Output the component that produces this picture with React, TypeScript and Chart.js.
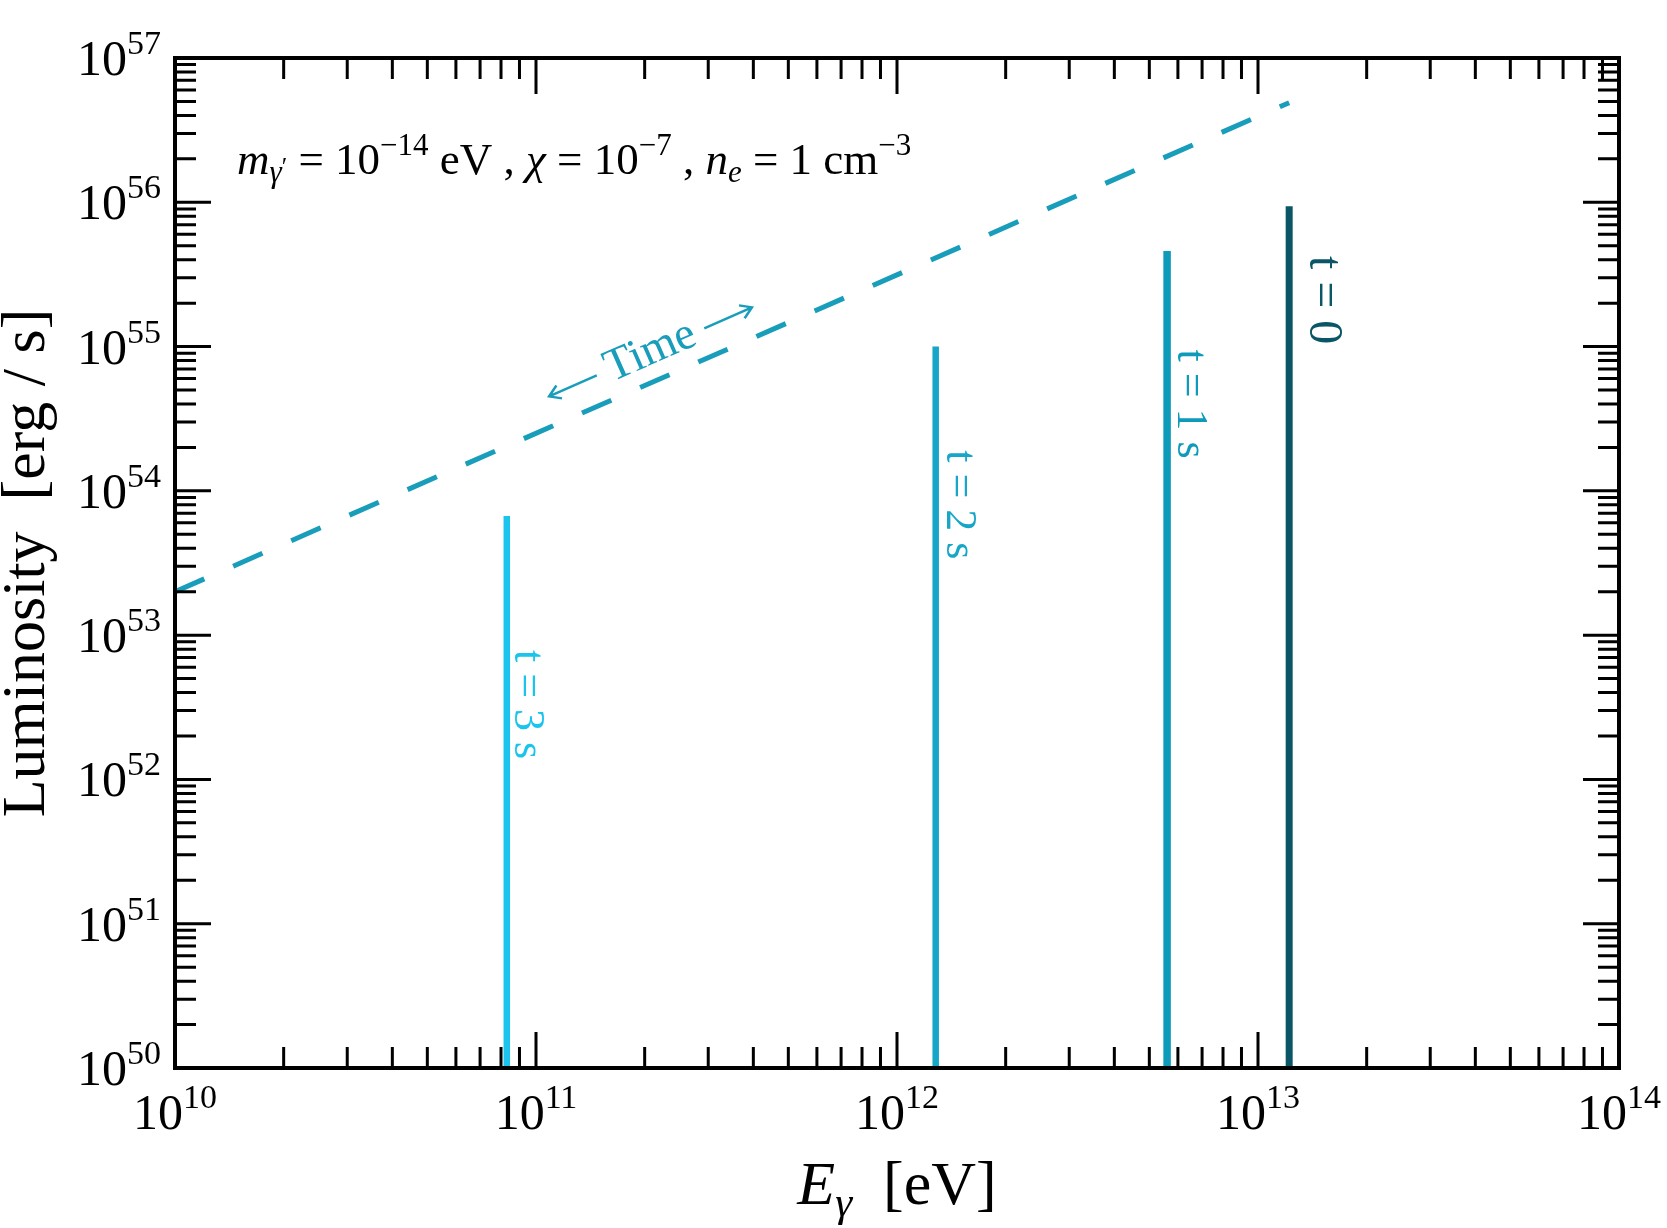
import React, { useEffect, useRef } from 'react';
import { Chart, registerables } from 'chart.js';

Chart.register(...registerables);

// spectral lines at different times (E in eV, L in erg/s)
const lineTimes = ['t = 3 s', 't = 2 s', 't = 1 s', 't = 0'];
const lineEnergy = [8.3e10, 1.28e12, 5.6e12, 1.22e13];
const linePeak = [6.7e53, 1.0e55, 4.6e55, 9.4e55];
const lineFloor = 1e50;
const labelLum = [3.3e52, 8.0e53, 4.0e54, 2.1e55];

// dashed envelope of the peaks
const envelopeEnergy = [1e10, 1.22e13];
const envelopeLum = [2e53, 4.9e56];

// "Time" arrow label anchor [E, L]
const timeLabelAt = [2.06e11, 9.6e54];

const xDecades = [10, 11, 12, 13, 14];
const yDecades = [50, 51, 52, 53, 54, 55, 56, 57];

const lineColors = ['#1BC4EC', '#16A6C7', '#0E9BBA', '#0A5666'];
const lineWidths = [6.5, 6.5, 7.5, 7];
const labelGap = [8, 11, 11, 21];
const labelSize = [44, 44, 44, 48];
const envelopeColor = '#189DBB';

const SERIF = '"Liberation Serif", "Times New Roman", Times, serif';

type Part = { t: string; it?: boolean; s?: number; dy?: number };

const fontFor = (p: Part, size: number) =>
  `${p.it ? 'italic ' : ''}${Math.round(size * (p.s ?? 1))}px ${SERIF}`;

function richWidth(ctx: CanvasRenderingContext2D, parts: Part[], size: number) {
  let w = 0;
  for (const p of parts) {
    ctx.font = fontFor(p, size);
    w += ctx.measureText(p.t).width;
  }
  return w;
}

function drawRich(
  ctx: CanvasRenderingContext2D,
  parts: Part[],
  x: number,
  y: number,
  size: number,
  align: 'left' | 'center' | 'right'
) {
  const w = richWidth(ctx, parts, size);
  let cx = align === 'left' ? x : align === 'center' ? x - w / 2 : x - w;
  ctx.textAlign = 'left';
  ctx.textBaseline = 'alphabetic';
  for (const p of parts) {
    ctx.font = fontFor(p, size);
    ctx.fillText(p.t, cx, y + (p.dy ?? 0) * size);
    cx += ctx.measureText(p.t).width;
  }
}

const pow10 = (n: number): Part[] => [{ t: '10' }, { t: String(n), s: 0.68, dy: -0.42 }];

const framePlugin = {
  id: 'frame',
  afterDraw(chart: Chart) {
    const ctx = chart.ctx;
    const { left, right, top, bottom } = chart.chartArea;
    const xs = chart.scales.x;
    const ys = chart.scales.y;
    ctx.save();

    // ticks
    ctx.strokeStyle = '#000';
    ctx.lineWidth = 3;
    const major = 36;
    const minor = 21;
    ctx.beginPath();
    xDecades.forEach((d, i) => {
      const px = xs.getPixelForValue(10 ** d);
      ctx.moveTo(px, bottom); ctx.lineTo(px, bottom - major);
      ctx.moveTo(px, top); ctx.lineTo(px, top + major);
      if (i < xDecades.length - 1) {
        for (let k = 2; k <= 9; k++) {
          const m = xs.getPixelForValue(k * 10 ** d);
          ctx.moveTo(m, bottom); ctx.lineTo(m, bottom - minor);
          ctx.moveTo(m, top); ctx.lineTo(m, top + minor);
        }
      }
    });
    yDecades.forEach((d, i) => {
      const py = ys.getPixelForValue(10 ** d);
      ctx.moveTo(left, py); ctx.lineTo(left + major, py);
      ctx.moveTo(right, py); ctx.lineTo(right - major, py);
      if (i < yDecades.length - 1) {
        for (let k = 2; k <= 9; k++) {
          const m = ys.getPixelForValue(k * 10 ** d);
          ctx.moveTo(left, m); ctx.lineTo(left + minor, m);
          ctx.moveTo(right, m); ctx.lineTo(right - minor, m);
        }
      }
    });
    ctx.stroke();

    // frame
    ctx.lineWidth = 4;
    ctx.strokeRect(left, top, right - left, bottom - top);

    // tick labels
    ctx.fillStyle = '#000';
    xDecades.forEach((d) => {
      drawRich(ctx, pow10(d), xs.getPixelForValue(10 ** d), bottom + 61, 50, 'center');
    });
    yDecades.forEach((d) => {
      drawRich(ctx, pow10(d), left - 14, ys.getPixelForValue(10 ** d) + 17, 50, 'right');
    });

    // axis titles
    drawRich(
      ctx,
      [{ t: 'E', it: true }, { t: 'γ', it: true, s: 0.7, dy: 0.2 }, { t: '  [eV]' }],
      (left + right) / 2,
      1204,
      62,
      'center'
    );
    ctx.save();
    ctx.translate(44, (top + bottom) / 2);
    ctx.rotate(-Math.PI / 2);
    drawRich(ctx, [{ t: 'Luminosity  [erg / s]' }], 0, 0, 62, 'center');
    ctx.restore();

    // parameter annotation
    drawRich(
      ctx,
      [
        { t: 'm', it: true },
        { t: 'γ', it: true, s: 0.7, dy: 0.18 },
        { t: '′', s: 0.55, dy: 0.02 },
        { t: ' = 10' },
        { t: '−14', s: 0.7, dy: -0.42 },
        { t: ' eV , ' },
        { t: 'χ', it: true },
        { t: ' = 10' },
        { t: '−7', s: 0.7, dy: -0.42 },
        { t: ' , ' },
        { t: 'n', it: true },
        { t: 'e', it: true, s: 0.7, dy: 0.18 },
        { t: ' = 1 cm' },
        { t: '−3', s: 0.7, dy: -0.42 },
      ],
      left + 62,
      top + 116,
      45,
      'left'
    );

    // time labels beside each line
    lineTimes.forEach((txt, i) => {
      const px = xs.getPixelForValue(lineEnergy[i]) + labelGap[i];
      const py = ys.getPixelForValue(labelLum[i]);
      ctx.save();
      ctx.translate(px, py);
      ctx.rotate(Math.PI / 2);
      ctx.fillStyle = lineColors[i];
      ctx.font = `${labelSize[i]}px ${SERIF}`;
      ctx.textAlign = 'center';
      ctx.textBaseline = 'alphabetic';
      ctx.fillText(txt, 0, 0);
      ctx.restore();
    });

    // "<- Time ->" along the envelope
    const x1 = xs.getPixelForValue(envelopeEnergy[0]);
    const y1 = ys.getPixelForValue(envelopeLum[0]);
    const x2 = xs.getPixelForValue(envelopeEnergy[1]);
    const y2 = ys.getPixelForValue(envelopeLum[1]);
    const ang = Math.atan2(y2 - y1, x2 - x1);
    ctx.save();
    ctx.translate(xs.getPixelForValue(timeLabelAt[0]), ys.getPixelForValue(timeLabelAt[1]));
    ctx.rotate(ang);
    ctx.fillStyle = envelopeColor;
    ctx.strokeStyle = envelopeColor;
    ctx.font = `46px ${SERIF}`;
    ctx.textAlign = 'center';
    ctx.textBaseline = 'alphabetic';
    ctx.fillText('Time', 0, 15);
    const hw = ctx.measureText('Time').width / 2;
    const gap = 11;
    const len = 52;
    const ay = 3;
    ctx.lineWidth = 2.5;
    ctx.beginPath();
    ctx.moveTo(-hw - gap, ay); ctx.lineTo(-hw - gap - len, ay);
    ctx.moveTo(-hw - gap - len + 11, ay - 7); ctx.lineTo(-hw - gap - len, ay); ctx.lineTo(-hw - gap - len + 11, ay + 7);
    ctx.moveTo(hw + gap, ay); ctx.lineTo(hw + gap + len, ay);
    ctx.moveTo(hw + gap + len - 11, ay - 7); ctx.lineTo(hw + gap + len, ay); ctx.lineTo(hw + gap + len - 11, ay + 7);
    ctx.stroke();
    ctx.restore();

    ctx.restore();
  },
};

const App: React.FC = () => {
  const canvasRef = useRef<HTMLCanvasElement>(null);

  useEffect(() => {
    document.body.style.margin = '0';
    const ctx = canvasRef.current?.getContext('2d');
    if (!ctx) return;

    const chart = new Chart(ctx, {
      type: 'scatter',
      data: {
        datasets: [
          {
            data: envelopeEnergy.map((e, i) => ({ x: e, y: envelopeLum[i] })),
            showLine: true,
            borderColor: envelopeColor,
            borderWidth: 5,
            borderDash: [32, 31.5],
            borderCapStyle: 'butt',
            pointRadius: 0,
          },
          ...lineEnergy.map((e, i) => ({
            data: [
              { x: e, y: lineFloor },
              { x: e, y: linePeak[i] },
            ],
            showLine: true,
            borderColor: lineColors[i],
            borderWidth: lineWidths[i],
            borderCapStyle: 'butt' as const,
            pointRadius: 0,
          })),
        ],
      },
      options: {
        responsive: false,
        animation: false,
        events: [],
        layout: { padding: { left: 175, right: 48, top: 58, bottom: 160 } },
        plugins: { legend: { display: false }, tooltip: { enabled: false } },
        scales: {
          x: { type: 'logarithmic', min: 1e10, max: 1e14, display: false },
          y: { type: 'logarithmic', min: 1e50, max: 1e57, display: false },
        },
      },
      plugins: [framePlugin],
    });

    return () => chart.destroy();
  }, []);

  return <canvas ref={canvasRef} width={1667} height={1228} style={{ display: 'block' }} />;
};

export default App;
